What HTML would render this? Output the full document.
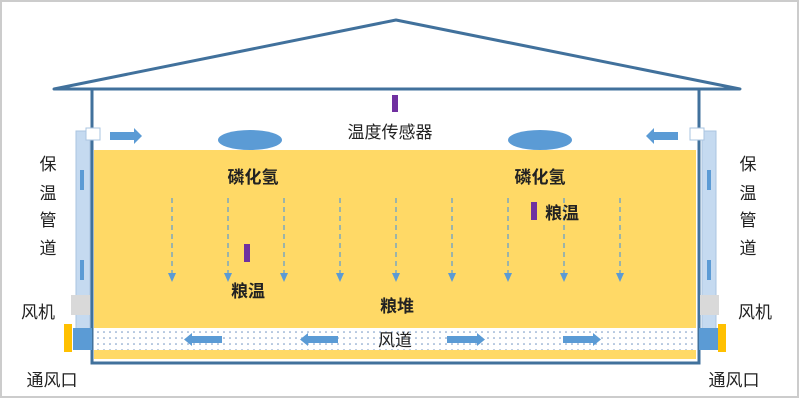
<!DOCTYPE html>
<html><head><meta charset="utf-8"><style>
html,body{margin:0;padding:0;background:#fff}
svg{display:block}
text{font-family:"Liberation Sans","Noto Sans CJK SC",sans-serif;fill:#222}
</style></head><body>
<svg width="800" height="403" viewBox="0 0 800 403" xmlns="http://www.w3.org/2000/svg">
<defs>
<pattern id="dots" width="6" height="6" patternUnits="userSpaceOnUse">
<rect width="6" height="6" fill="#fff"/><circle cx="2" cy="2" r="0.8" fill="#6a8fc0"/>
</pattern>
<marker id="ah" markerWidth="8" markerHeight="8" refX="4" refY="4" orient="auto" markerUnits="userSpaceOnUse">
<path d="M0,0 L8,4 L0,8 Z" fill="#5b9bd5"/></marker>
</defs>
<rect x="1" y="1" width="797" height="396" fill="#fff" stroke="#ccc" stroke-width="2"/>
<!-- roof -->
<path d="M54,89 L396,20 L740,89 Z" fill="#fff" stroke="#41719c" stroke-width="3" stroke-linejoin="round"/>
<!-- yellow grain -->
<rect x="94" y="150" width="602" height="209" fill="#ffd966"/>
<rect x="94" y="328" width="602" height="22" fill="url(#dots)"/>
<!-- building -->
<rect x="92" y="89" width="607" height="274" fill="none" stroke="#41719c" stroke-width="3"/>
<!-- pipes -->
<rect x="76" y="131" width="14" height="200" fill="#c5daf0" stroke="#aac4e0"/>
<rect x="86" y="128" width="14" height="12" fill="#fff" stroke="#aac4e0"/>
<rect x="80" y="170" width="4" height="20" fill="#5b9bd5"/>
<rect x="80" y="260" width="4" height="20" fill="#5b9bd5"/>
<rect x="71" y="295" width="19" height="20" fill="#d9d9d9"/>
<rect x="73" y="328" width="19" height="22" fill="#5b9bd5"/>
<rect x="64" y="324" width="8" height="28" fill="#ffc000"/>
<rect x="702" y="131" width="14" height="200" fill="#c5daf0" stroke="#aac4e0"/>
<rect x="690" y="128" width="14" height="12" fill="#fff" stroke="#aac4e0"/>
<rect x="707" y="170" width="4" height="20" fill="#5b9bd5"/>
<rect x="707" y="260" width="4" height="20" fill="#5b9bd5"/>
<rect x="700" y="295" width="19" height="20" fill="#d9d9d9"/>
<rect x="699" y="328" width="19" height="22" fill="#5b9bd5"/>
<rect x="718" y="324" width="8" height="28" fill="#ffc000"/>
<!-- top arrows -->
<path d="M110,132 H134 V128 L142,136 L134,144 V140 H110 Z" fill="#5b9bd5"/>
<path d="M678,132 H654 V128 L646,136 L654,144 V140 H678 Z" fill="#5b9bd5"/>
<!-- ellipses -->
<ellipse cx="250" cy="140" rx="32" ry="10" fill="#5b9bd5"/>
<ellipse cx="540" cy="140" rx="32" ry="10" fill="#5b9bd5"/>
<!-- sensor -->
<rect x="392" y="95" width="6" height="17" fill="#7030a0"/>
<rect x="244" y="244" width="6" height="18" fill="#7030a0"/>
<rect x="531" y="202" width="6" height="18" fill="#7030a0"/>
<!-- dashed arrows -->
<g stroke="#5b9bd5" stroke-width="1.2" stroke-dasharray="5,4">
<line x1="172" y1="198" x2="172" y2="276"/><line x1="228" y1="198" x2="228" y2="276"/>
<line x1="284" y1="198" x2="284" y2="276"/><line x1="340" y1="198" x2="340" y2="276"/>
<line x1="396" y1="198" x2="396" y2="276"/><line x1="452" y1="198" x2="452" y2="276"/>
<line x1="508" y1="198" x2="508" y2="276"/><line x1="564" y1="198" x2="564" y2="276"/>
<line x1="620" y1="198" x2="620" y2="276"/>
</g>
<g fill="#5b9bd5">
<path d="M168,273 h8 l-4,9z"/><path d="M224,273 h8 l-4,9z"/><path d="M280,273 h8 l-4,9z"/>
<path d="M336,273 h8 l-4,9z"/><path d="M392,273 h8 l-4,9z"/><path d="M448,273 h8 l-4,9z"/>
<path d="M504,273 h8 l-4,9z"/><path d="M560,273 h8 l-4,9z"/><path d="M616,273 h8 l-4,9z"/>
</g>
<!-- duct arrows -->
<path d="M222,336 H192 V333 L184,339.5 L192,346 V343 H222 Z" fill="#5b9bd5"/>
<path d="M338,336 H308 V333 L300,339.5 L308,346 V343 H338 Z" fill="#5b9bd5"/>
<path d="M447,336 H477 V333 L485,339.5 L477,346 V343 H447 Z" fill="#5b9bd5"/>
<path d="M563,336 H593 V333 L601,339.5 L593,346 V343 H563 Z" fill="#5b9bd5"/>
<!-- labels -->
<g font-size="17">
<text x="390" y="138" text-anchor="middle">温度传感器</text>
<text x="253" y="183" text-anchor="middle" font-weight="bold">磷化氢</text>
<text x="540" y="183" text-anchor="middle" font-weight="bold">磷化氢</text>
<text x="248" y="297" text-anchor="middle" font-weight="bold">粮温</text>
<text x="562" y="219" text-anchor="middle" font-weight="bold">粮温</text>
<text x="397" y="312" text-anchor="middle" font-weight="bold">粮堆</text>
<text x="395" y="346" text-anchor="middle">风道</text>
<text x="48" y="170" text-anchor="middle">保</text>
<text x="48" y="199" text-anchor="middle">温</text>
<text x="48" y="226" text-anchor="middle">管</text>
<text x="48" y="254" text-anchor="middle">道</text>
<text x="38" y="318" text-anchor="middle">风机</text>
<text x="52" y="386" text-anchor="middle">通风口</text>
<text x="748" y="170" text-anchor="middle">保</text>
<text x="748" y="199" text-anchor="middle">温</text>
<text x="748" y="226" text-anchor="middle">管</text>
<text x="748" y="254" text-anchor="middle">道</text>
<text x="755" y="318" text-anchor="middle">风机</text>
<text x="734" y="386" text-anchor="middle">通风口</text>
</g>
</svg>
</body></html>
